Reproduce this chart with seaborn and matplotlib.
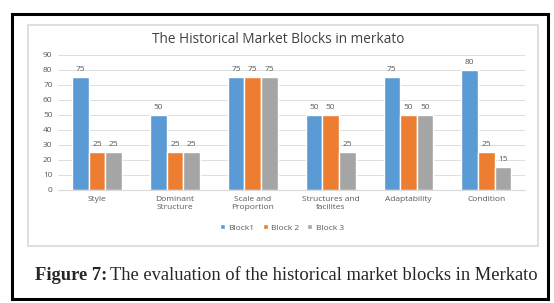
import pandas as pd
import numpy as np
import seaborn as sns
import matplotlib.pyplot as plt
from matplotlib.patches import Rectangle

categories = ["Style", "Dominant\nStructure", "Scale and\nProportion",
              "Structures and\nfacilites", "Adaptability", "Condition"]
block1 = [75, 50, 75, 50, 75, 80]
block2 = [25, 25, 75, 50, 50, 25]
block3 = [25, 25, 75, 25, 50, 15]
series_names = ["Block1", "Block 2", "Block 3"]
colors = ["#5B9BD5", "#ED7D31", "#A5A5A5"]

df = pd.DataFrame({
    "category": categories * 3,
    "value": block1 + block2 + block3,
    "block": [s for s in series_names for _ in categories],
})

sns.set_style("white")
plt.rcParams["font.family"] = ["Open Sans", "DejaVu Sans"]
grey = "#595959"

fig = plt.figure(figsize=(5.54, 3.03), dpi=100)

# outer black frame and the light chart box
fig.patches.append(Rectangle((0.022, 0.012), 0.968, 0.942, transform=fig.transFigure,
                             fill=False, edgecolor="black", linewidth=2.2))
fig.patches.append(Rectangle((0.051, 0.188), 0.92, 0.729, transform=fig.transFigure,
                             fill=False, edgecolor="#D9D9D9", linewidth=1.2))

ax = fig.add_axes([0.105, 0.373, 0.843, 0.446])
sns.barplot(data=df, x="category", y="value", hue="block", palette=colors,
            saturation=1, width=0.64, edgecolor="white", linewidth=1.0, ax=ax)

ax.set_ylim(0, 90)
ax.set_yticks(np.arange(0, 91, 10))
ax.grid(axis="y", color="#D9D9D9", linewidth=0.6)
ax.set_axisbelow(True)
for s in ["top", "right", "left"]:
    ax.spines[s].set_visible(False)
ax.spines["bottom"].set_color("#D9D9D9")
ax.set_xlabel("")
ax.set_ylabel("")
ax.tick_params(axis="both", length=0, labelsize=6, colors=grey, pad=4)

for cont in ax.containers:
    ax.bar_label(cont, fontsize=6, color=grey, padding=3)

handles, labels = ax.get_legend_handles_labels()
ax.legend(handles, labels, loc="center", bbox_to_anchor=(0.509, 0.248),
          bbox_transform=fig.transFigure, ncol=3, frameon=False, fontsize=6,
          labelcolor=grey, handlelength=0.6, handleheight=0.6, columnspacing=1.0,
          handletextpad=0.4)

fig.text(0.503, 0.868, "The Historical Market Blocks in merkato", ha="center",
         va="center", fontsize=9.8, color="#404040")

# caption: bold "Figure 7:" followed by regular text
cap1 = fig.text(0.063, 0.092, "Figure 7:", fontsize=13.3, fontweight="bold",
                family="Liberation Serif", va="center", ha="left")
fig.canvas.draw()
bb = cap1.get_window_extent()
x_next = fig.transFigure.inverted().transform((bb.x1, 0))[0]
fig.text(x_next + 0.006, 0.092, "The evaluation of the historical market blocks in Merkato",
         fontsize=13.3, family="Liberation Serif", va="center", ha="left")

fig.savefig("out.png", dpi=100)
